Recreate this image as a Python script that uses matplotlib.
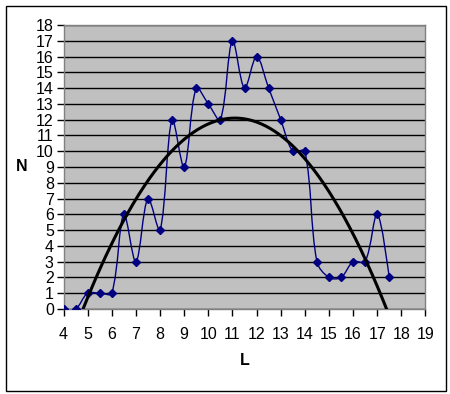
import matplotlib
matplotlib.use("Agg")
import matplotlib.pyplot as plt
import numpy as np
from matplotlib.patches import PathPatch, Rectangle
from matplotlib.path import Path

L_VALUES = [4, 4.5, 5, 5.5, 6, 6.5, 7, 7.5, 8, 8.5, 9, 9.5, 10, 10.5, 11,
            11.5, 12, 12.5, 13, 13.5, 14, 14.5, 15, 15.5, 16, 16.5, 17, 17.5]
N_VALUES = [0, 0, 1, 1, 1, 6, 3, 7, 5, 12, 9, 14, 13, 12, 17,
            14, 16, 14, 12, 10, 10, 3, 2, 2, 3, 3, 6, 2]
X_TICKS = list(range(4, 20))
Y_TICKS = list(range(0, 19))

plt.rcParams["font.family"] = ["Liberation Sans", "DejaVu Sans"]


def smooth_path(xs, ys, sx, sy):
    # spreadsheet-style smoothed line: bezier segments whose control arms
    # are split by the neighbouring segment lengths (measured on screen)
    xs = np.asarray(xs, float)
    ys = np.asarray(ys, float)
    n = len(xs)
    pts = np.column_stack([xs, ys])
    scr = np.column_stack([xs * sx, ys * sy])
    seg = np.hypot(*np.diff(scr, axis=0).T)
    out_c = np.zeros_like(pts)
    in_c = np.zeros_like(pts)
    for i in range(n):
        a = max(i - 1, 0)
        b = min(i + 1, n - 1)
        t = pts[b] - pts[a]
        d_prev = seg[i - 1] if i > 0 else seg[0]
        d_next = seg[i] if i < n - 1 else seg[-1]
        tot = d_prev + d_next
        k = 1 / 3 if 0 < i < n - 1 else 1 / 6
        out_c[i] = pts[i] + t * k * d_next / tot
        in_c[i] = pts[i] - t * k * d_prev / tot
    verts = [tuple(pts[0])]
    codes = [Path.MOVETO]
    for i in range(n - 1):
        verts += [tuple(out_c[i]), tuple(in_c[i + 1]), tuple(pts[i + 1])]
        codes += [Path.CURVE4] * 3
    return Path(verts, codes)


fig = plt.figure(figsize=(4.5, 3.94), dpi=100)
fig.patches.append(Rectangle((5.5 / 450, 1 - 390.5 / 394), 440 / 450, 385 / 394,
                             transform=fig.transFigure, fill=False,
                             edgecolor="black", linewidth=1))

ax = fig.add_axes([63.5 / 450, 1 - 309 / 394, 362 / 450, 284 / 394])
ax.set_facecolor("#C0C0C0")
for side in ax.spines.values():
    side.set_color("#808080")
    side.set_linewidth(1)

ax.set_xlim(4, 19)
ax.set_ylim(0, 18)
ax.set_xticks(X_TICKS)
ax.set_yticks(Y_TICKS)
ax.tick_params(axis="both", direction="out", length=5, width=1, color="black",
               labelsize=11.5)
ax.tick_params(axis="x", pad=8)
ax.tick_params(axis="y", pad=2)
ax.yaxis.grid(True, color="black", linewidth=1)
ax.set_axisbelow(True)

px_x = 362 / (19 - 4)
px_y = 284 / (18 - 0)
ax.add_patch(PathPatch(smooth_path(L_VALUES, N_VALUES, px_x, px_y),
                       facecolor="none", edgecolor="#000080", linewidth=1,
                       zorder=3))
ax.plot(L_VALUES, N_VALUES, linestyle="none", marker="D", markersize=4.5,
        color="#000080", zorder=4)

# polynomial (order 2) trendline, like the spreadsheet's
coef = np.polyfit(L_VALUES, N_VALUES, 2)
xt = np.linspace(min(L_VALUES), max(L_VALUES), 300)
ax.plot(xt, np.polyval(coef, xt), color="black", linewidth=2.2, zorder=5)

ax.set_xlabel("L", fontsize=11.5, fontweight="bold", labelpad=8)
ax.set_ylabel("N", fontsize=11.5, fontweight="bold", rotation=0, labelpad=10,
              va="center")

fig.savefig("out.png", dpi=100)
